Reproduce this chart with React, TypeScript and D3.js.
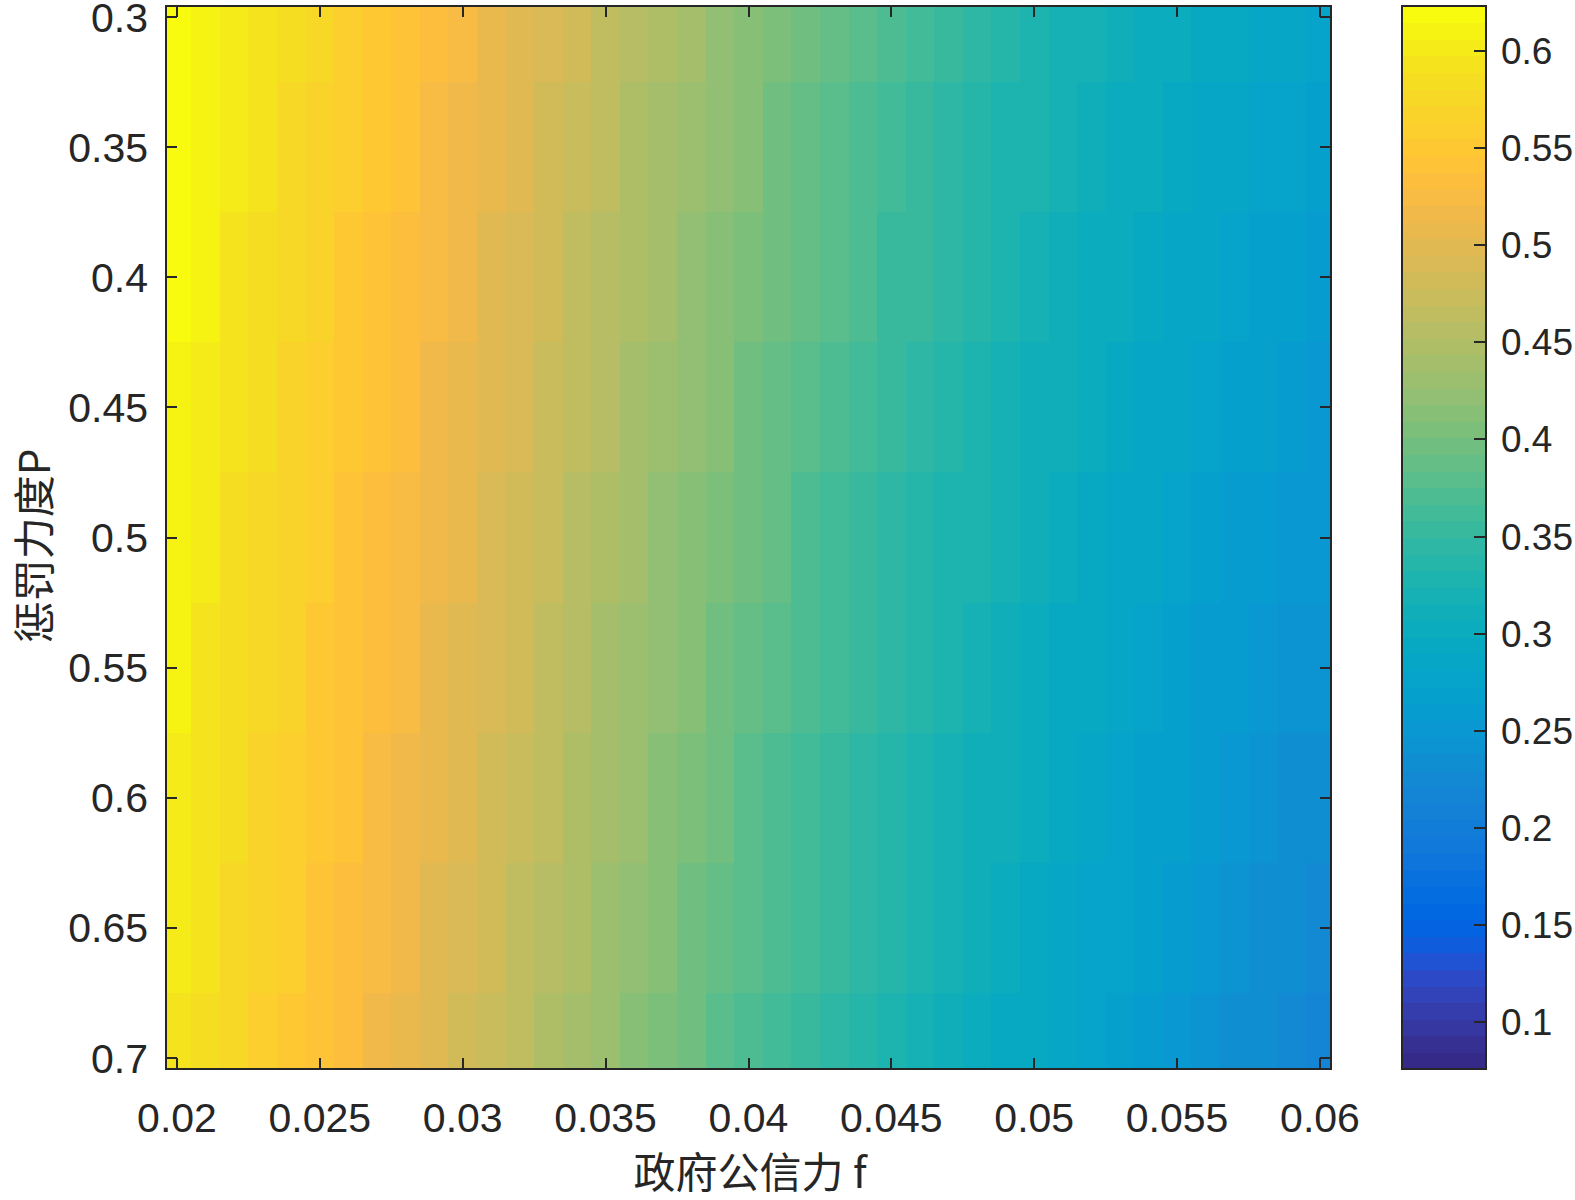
import React from "react";
import * as d3 from "d3";

// grid of the surface: 政府公信力 f (columns) and 惩罚力度 P (rows)
const fValues = [
  0.020, 0.021, 0.022, 0.023, 0.024, 0.025, 0.026, 0.027, 0.028, 0.029,
  0.030, 0.031, 0.032, 0.033, 0.034, 0.035, 0.036, 0.037, 0.038, 0.039,
  0.040, 0.041, 0.042, 0.043, 0.044, 0.045, 0.046, 0.047, 0.048, 0.049,
  0.050, 0.051, 0.052, 0.053, 0.054, 0.055, 0.056, 0.057, 0.058, 0.059, 0.060,
];
const pValues = [0.3, 0.35, 0.4, 0.45, 0.5, 0.55, 0.6, 0.65, 0.7];

// one row of values for each P
const zP030 = [0.622,0.612,0.602,0.592,0.582,0.572,0.562,0.552,0.542,0.532,0.522,0.511,0.500,0.490,0.479,0.468,0.457,0.447,0.436,0.426,0.415,0.405,0.396,0.386,0.377,0.368,0.359,0.351,0.343,0.335,0.328,0.322,0.316,0.310,0.305,0.300,0.295,0.291,0.286,0.282,0.278];
const zP035 = [0.619,0.609,0.599,0.589,0.579,0.569,0.558,0.548,0.538,0.528,0.518,0.507,0.496,0.486,0.474,0.463,0.452,0.442,0.431,0.421,0.410,0.400,0.391,0.381,0.372,0.363,0.355,0.347,0.339,0.331,0.324,0.317,0.311,0.305,0.300,0.295,0.289,0.285,0.279,0.275,0.271];
const zP040 = [0.616,0.606,0.595,0.585,0.575,0.565,0.554,0.544,0.534,0.524,0.513,0.502,0.491,0.481,0.469,0.458,0.447,0.437,0.426,0.416,0.405,0.395,0.386,0.376,0.367,0.358,0.350,0.342,0.334,0.326,0.319,0.312,0.306,0.300,0.294,0.289,0.283,0.278,0.272,0.267,0.263];
const zP045 = [0.613,0.603,0.592,0.582,0.571,0.561,0.550,0.540,0.530,0.520,0.509,0.498,0.487,0.476,0.464,0.453,0.442,0.432,0.421,0.411,0.400,0.390,0.381,0.371,0.362,0.353,0.345,0.337,0.329,0.321,0.314,0.307,0.301,0.295,0.289,0.283,0.277,0.271,0.265,0.260,0.255];
const zP050 = [0.609,0.599,0.588,0.578,0.567,0.557,0.546,0.536,0.525,0.515,0.504,0.493,0.482,0.471,0.459,0.448,0.437,0.426,0.415,0.405,0.394,0.384,0.375,0.366,0.357,0.348,0.340,0.332,0.324,0.316,0.309,0.302,0.296,0.289,0.283,0.277,0.270,0.264,0.258,0.252,0.247];
const zP055 = [0.606,0.596,0.585,0.575,0.564,0.553,0.542,0.532,0.521,0.511,0.500,0.489,0.478,0.466,0.454,0.443,0.432,0.421,0.410,0.400,0.389,0.379,0.370,0.361,0.352,0.343,0.335,0.327,0.320,0.312,0.305,0.297,0.291,0.284,0.278,0.271,0.264,0.258,0.251,0.245,0.239];
const zP060 = [0.603,0.592,0.581,0.571,0.560,0.549,0.538,0.528,0.517,0.506,0.495,0.484,0.473,0.461,0.449,0.438,0.427,0.416,0.405,0.394,0.383,0.374,0.365,0.356,0.347,0.338,0.330,0.322,0.315,0.307,0.300,0.292,0.286,0.278,0.272,0.265,0.258,0.251,0.244,0.237,0.231];
const zP065 = [0.600,0.589,0.578,0.567,0.556,0.545,0.534,0.524,0.513,0.502,0.491,0.480,0.468,0.456,0.444,0.433,0.422,0.411,0.400,0.389,0.378,0.369,0.360,0.351,0.342,0.333,0.325,0.317,0.310,0.302,0.295,0.287,0.281,0.273,0.266,0.259,0.252,0.244,0.237,0.230,0.223];
const zP070 = [0.596,0.585,0.574,0.563,0.552,0.541,0.530,0.519,0.508,0.497,0.486,0.475,0.463,0.451,0.439,0.427,0.416,0.405,0.394,0.383,0.372,0.363,0.354,0.345,0.336,0.328,0.320,0.312,0.305,0.297,0.290,0.282,0.275,0.267,0.260,0.253,0.245,0.237,0.230,0.222,0.215];
const zRows = [zP030, zP035, zP040, zP045, zP050, zP055, zP060, zP065, zP070];

const xTicks = [0.02, 0.025, 0.03, 0.035, 0.04, 0.045, 0.05, 0.055, 0.06];
const yTicks = [0.3, 0.35, 0.4, 0.45, 0.5, 0.55, 0.6, 0.65, 0.7];
const cTicks = [0.1, 0.15, 0.2, 0.25, 0.3, 0.35, 0.4, 0.45, 0.5, 0.55, 0.6];
const cLimits = [0.076, 0.623];

// parula, 64 entries
const parula = [
  [0.2081,0.1663,0.5292],[0.2116,0.1898,0.5777],[0.2123,0.2138,0.6270],[0.2081,0.2386,0.6771],
  [0.1959,0.2645,0.7279],[0.1707,0.2919,0.7792],[0.1253,0.3242,0.8303],[0.0591,0.3598,0.8683],
  [0.0117,0.3875,0.8820],[0.0060,0.4086,0.8828],[0.0165,0.4266,0.8786],[0.0329,0.4430,0.8720],
  [0.0498,0.4586,0.8641],[0.0629,0.4737,0.8554],[0.0723,0.4887,0.8467],[0.0779,0.5040,0.8384],
  [0.0793,0.5200,0.8312],[0.0749,0.5375,0.8263],[0.0641,0.5570,0.8240],[0.0488,0.5772,0.8228],
  [0.0343,0.5966,0.8199],[0.0265,0.6137,0.8135],[0.0239,0.6287,0.8038],[0.0231,0.6418,0.7913],
  [0.0228,0.6535,0.7768],[0.0267,0.6642,0.7607],[0.0384,0.6743,0.7436],[0.0590,0.6838,0.7254],
  [0.0843,0.6928,0.7062],[0.1133,0.7015,0.6859],[0.1453,0.7098,0.6646],[0.1801,0.7177,0.6424],
  [0.2178,0.7250,0.6193],[0.2586,0.7317,0.5954],[0.3022,0.7376,0.5712],[0.3482,0.7424,0.5473],
  [0.3953,0.7459,0.5244],[0.4420,0.7481,0.5033],[0.4871,0.7491,0.4840],[0.5300,0.7491,0.4661],
  [0.5709,0.7485,0.4494],[0.6099,0.7473,0.4337],[0.6473,0.7456,0.4188],[0.6834,0.7435,0.4044],
  [0.7184,0.7411,0.3905],[0.7525,0.7384,0.3768],[0.7858,0.7356,0.3633],[0.8185,0.7327,0.3498],
  [0.8507,0.7299,0.3360],[0.8824,0.7274,0.3217],[0.9139,0.7258,0.3063],[0.9450,0.7261,0.2886],
  [0.9739,0.7314,0.2666],[0.9938,0.7455,0.2403],[0.9990,0.7653,0.2164],[0.9955,0.7861,0.1967],
  [0.9880,0.8066,0.1794],[0.9789,0.8271,0.1633],[0.9697,0.8481,0.1475],[0.9626,0.8705,0.1309],
  [0.9589,0.8949,0.1132],[0.9598,0.9218,0.0948],[0.9661,0.9514,0.0755],[0.9763,0.9831,0.0538],
];
const cmap = parula.map(([r, g, b]) => d3.rgb(r * 255, g * 255, b * 255).formatHex());

const box = { left: 166, right: 1331, top: 6, bottom: 1069 };
const bar = { left: 1402, right: 1486, top: 6, bottom: 1069 };
const ink = "#262626";
const tickFont = "'Liberation Sans', Arial, Helvetica, sans-serif";
const cjkFont = "'Noto Sans CJK SC', sans-serif";

const fmt = d3.format("~g");

function colorOf(v) {
  let i = Math.floor(((v - cLimits[0]) / (cLimits[1] - cLimits[0])) * 64);
  i = Math.max(0, Math.min(63, i));
  return cmap[i];
}

export default function App() {
  const x = d3.scaleLinear().domain([0.02, 0.06]).range([177, 1320]);
  const y = d3.scaleLinear().domain([0.3, 0.7]).range([17, 1058]);
  const c = d3.scaleLinear().domain(cLimits).range([bar.bottom, bar.top]);
  const df = 0.001;
  const dp = 0.05;
  const tk = 11;

  const cells = [];
  zRows.forEach((row, r) => {
    const p = pValues[r];
    row.forEach((v, j) => {
      const f = fValues[j];
      const x0 = x(f - df / 2);
      const x1 = x(f + df / 2);
      const y0 = y(p - dp / 2);
      const y1 = y(p + dp / 2);
      cells.push(
        <rect key={r + "-" + j} x={x0} y={y0} width={x1 - x0 + 0.6} height={y1 - y0 + 0.6}
          fill={colorOf(v)} />
      );
    });
  });

  const bands = d3.range(64).map(i => {
    const v0 = cLimits[0] + (i * (cLimits[1] - cLimits[0])) / 64;
    const v1 = cLimits[0] + ((i + 1) * (cLimits[1] - cLimits[0])) / 64;
    return (
      <rect key={i} x={bar.left} y={c(v1)} width={bar.right - bar.left}
        height={c(v0) - c(v1) + 0.6} fill={cmap[i]} />
    );
  });

  return (
    <svg width={1575} height={1200} style={{ position: "absolute", left: 0, top: 0, background: "#fff" }}>
      <defs>
        <clipPath id="plotClip">
          <rect x={box.left} y={box.top} width={box.right - box.left} height={box.bottom - box.top} />
        </clipPath>
      </defs>
      <g clipPath="url(#plotClip)" shapeRendering="crispEdges">{cells}</g>

      <g stroke={ink} strokeWidth={2} shapeRendering="crispEdges">
        {xTicks.map(t => (
          <g key={"xt" + t}>
            <line x1={x(t)} x2={x(t)} y1={box.bottom} y2={box.bottom - tk} />
            <line x1={x(t)} x2={x(t)} y1={box.top} y2={box.top + tk} />
          </g>
        ))}
        {yTicks.map(t => (
          <g key={"yt" + t}>
            <line x1={box.left} x2={box.left + tk} y1={y(t)} y2={y(t)} />
            <line x1={box.right} x2={box.right - tk} y1={y(t)} y2={y(t)} />
          </g>
        ))}
        <rect x={box.left} y={box.top} width={box.right - box.left} height={box.bottom - box.top} fill="none" />
      </g>

      <g fontFamily={tickFont} fontSize={41} fill={ink}>
        {xTicks.map(t => (
          <text key={"xl" + t} x={x(t)} y={1132} textAnchor="middle">{fmt(t)}</text>
        ))}
        {yTicks.map(t => (
          <text key={"yl" + t} x={148} y={y(t) + 14.5} textAnchor="end">{fmt(t)}</text>
        ))}
      </g>

      <text x={750} y={1188} textAnchor="middle" fontFamily={cjkFont} fontSize={42} fill={ink}>政府公信力 f</text>
      <text transform="translate(50,546) rotate(-90)" textAnchor="middle" fontFamily={cjkFont} fontSize={42} fill={ink}>惩罚力度P</text>

      <g shapeRendering="crispEdges">{bands}</g>
      <g stroke={ink} strokeWidth={2} shapeRendering="crispEdges">
        {cTicks.map(t => (
          <line key={"ct" + t} x1={bar.right} x2={bar.right - 12} y1={c(t)} y2={c(t)} />
        ))}
        <rect x={bar.left} y={bar.top} width={bar.right - bar.left} height={bar.bottom - bar.top} fill="none" />
      </g>
      <g fontFamily={tickFont} fontSize={37} fill={ink}>
        {cTicks.map(t => (
          <text key={"cl" + t} x={1501} y={c(t) + 13}>{fmt(t)}</text>
        ))}
      </g>
    </svg>
  );
}
